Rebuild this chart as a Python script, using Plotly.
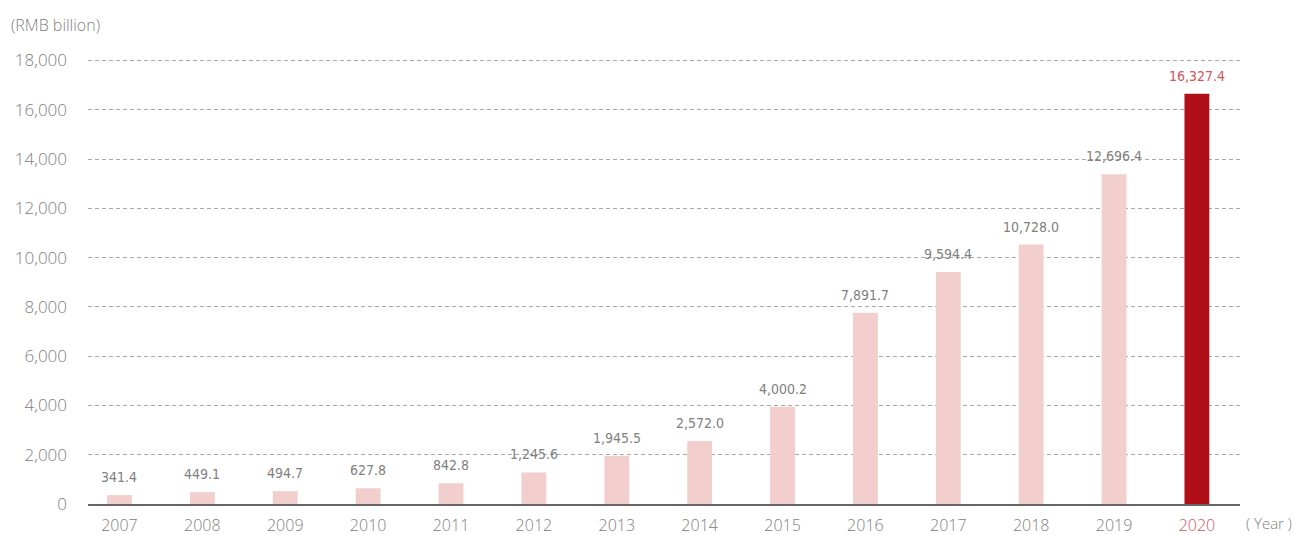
import plotly.graph_objects as go

years = ["2007", "2008", "2009", "2010", "2011", "2012", "2013",
         "2014", "2015", "2016", "2017", "2018", "2019", "2020"]
# bar heights as drawn in the reference (RMB billion)
bar_heights = [360, 480, 520, 640, 840, 1280, 1960,
               2557, 3950, 7761, 9420, 10529, 13384, 16654]
# value labels printed above the bars
value_labels = ["341.4", "449.1", "494.7", "627.8", "842.8", "1,245.6", "1,945.5",
                "2,572.0", "4,000.2", "7,891.7", "9,594.4", "10,728.0", "12,696.4", "16,327.4"]
y_ticks = [0, 2000, 4000, 6000, 8000, 10000, 12000, 14000, 16000, 18000]
y_tick_labels = ["0", "2,000", "4,000", "6,000", "8,000", "10,000", "12,000",
                 "14,000", "16,000", "18,000"]

LIGHT = "#f2cfcc"
DARK = "#b00f17"
RED_TEXT = "#d2545e"
GREY = "#808080"

highlight = years[-1]
colors = [DARK if y == highlight else LIGHT for y in years]

fig = go.Figure(go.Bar(
    x=years, y=bar_heights, marker=dict(color=colors, line=dict(width=0)),
    width=0.30, hoverinfo="skip",
))

for i, (yr, h, lab) in enumerate(zip(years, bar_heights, value_labels)):
    fig.add_annotation(
        x=i, y=h, text=lab, showarrow=False, yanchor="bottom", yshift=8,
        font=dict(family="Liberation Sans Narrow, DejaVu Sans Condensed",
                  size=14, color=RED_TEXT if yr == highlight else GREY, weight=300),
    )

tick_text = [f"<span style='color:{RED_TEXT}'>{y}</span>" if y == highlight else y for y in years]

fig.add_annotation(xref="paper", yref="paper", x=0, y=1.0, xshift=-79, yshift=33,
                   xanchor="left", yanchor="middle", showarrow=False,
                   text="(RMB billion)",
                   font=dict(family="Open Sans", size=16, color=GREY, weight=300))
fig.add_annotation(xref="paper", yref="paper", x=1.0, y=0, xshift=54, yshift=-19,
                   xanchor="right", yanchor="middle", showarrow=False,
                   text="( Year )",
                   font=dict(family="Open Sans", size=15, color=GREY, weight=300))

fig.update_layout(
    width=1295, height=535,
    margin=dict(l=88, r=55, t=58, b=31, autoexpand=False),
    paper_bgcolor="white", plot_bgcolor="white",
    showlegend=False,
    font=dict(family="Open Sans", color=GREY, size=16, weight=300),
    xaxis=dict(
        type="category", range=[-0.38, 13.52], automargin=False,
        tickvals=years, ticktext=tick_text,
        showgrid=False, showline=True, linecolor="#666666", linewidth=1.5,
        ticks="", ticklabelstandoff=6, zeroline=False,
        tickfont=dict(size=16, color=GREY),
    ),
    yaxis=dict(
        range=[0, 18100], tickvals=y_ticks, ticktext=y_tick_labels, automargin=False,
        showgrid=True, gridcolor="#a8a8a8", griddash="4px,3px", gridwidth=1,
        zeroline=False, showline=False, ticks="", ticklabelstandoff=20,
        tickfont=dict(size=17, color=GREY),
    ),
)

fig.write_html("out.html", config={"displayModeBar": False},
               post_script="document.body.style.margin='0';")
